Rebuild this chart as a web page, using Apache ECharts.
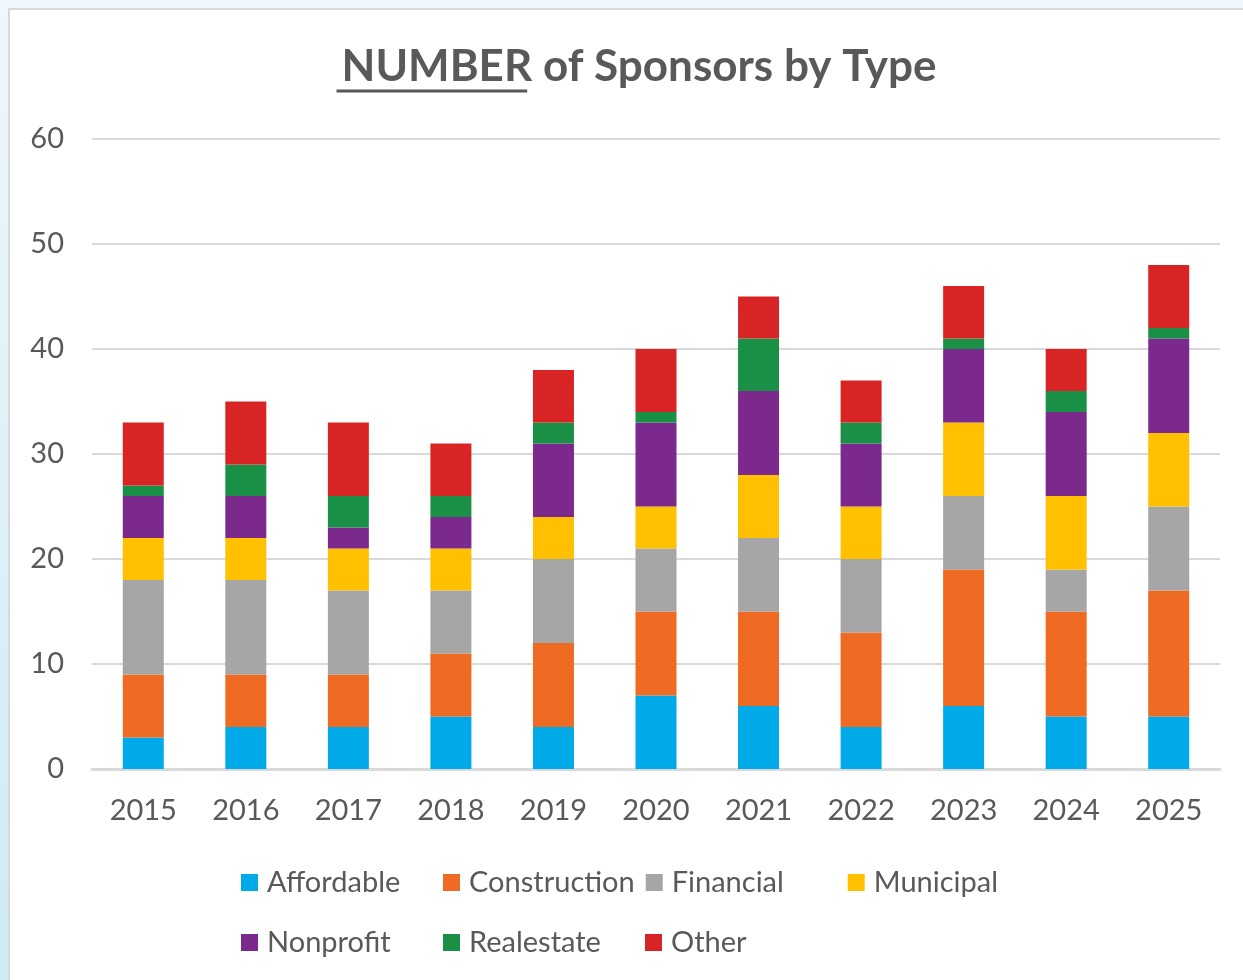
<!DOCTYPE html>
<html>
<head>
<meta charset="utf-8">
<script src="https://cdn.jsdelivr.net/npm/echarts@6/dist/echarts.min.js"></script>
<style>
  html, body { margin:0; padding:0; width:1243px; height:980px; overflow:hidden;
    background: linear-gradient(180deg, #eef7fb 0px, #cdeaf5 100%); }
  #box { position:absolute; left:8px; top:8px; width:1300px; height:1000px; background:#fff;
    border-left:2px solid #d9d9d9; border-top:2px solid #d9d9d9; }
  #chart { position:absolute; left:0; top:0; width:1243px; height:980px; }
</style>
</head>
<body>
<div id="box"></div>
<div id="chart"></div>
<script>
const years = ['2015','2016','2017','2018','2019','2020','2021','2022','2023','2024','2025'];
const affordable   = [3, 4, 4, 5, 4, 7, 6, 4, 6, 5, 5];
const construction = [6, 5, 5, 6, 8, 8, 9, 9, 13, 10, 12];
const financial    = [9, 9, 8, 6, 8, 6, 7, 7, 7, 4, 8];
const municipal    = [4, 4, 4, 4, 4, 4, 6, 5, 7, 7, 7];
const nonprofit    = [4, 4, 2, 3, 7, 8, 8, 6, 7, 8, 9];
const realestate   = [1, 3, 3, 2, 2, 1, 5, 2, 1, 2, 1];
const other        = [6, 6, 7, 5, 5, 6, 4, 4, 5, 4, 6];
const yTicks = { min: 0, max: 60, interval: 10 };

const seriesDefs = [
  ['Affordable', affordable, '#00AAE9'],
  ['Construction', construction, '#EF6A22'],
  ['Financial', financial, '#A6A6A6'],
  ['Municipal', municipal, '#FFC000'],
  ['Nonprofit', nonprofit, '#7B298C'],
  ['Realestate', realestate, '#1A9047'],
  ['Other', other, '#D82424']
];

const font = 'Lato, "Open Sans", sans-serif';
const titleSize = 44;
const titleCenter = 634;
const titleFull = 'NUMBER of Sponsors by Type';
// measure text to place the underline under "NUMBER"
const cv = document.createElement('canvas').getContext('2d');
cv.font = 'bold ' + titleSize + 'px ' + font;
const fullW = cv.measureText(titleFull).width;
const numW = cv.measureText('NUMBER').width;
const ux1 = titleCenter - fullW / 2;

const chart = echarts.init(document.getElementById('chart'), null, { renderer: 'canvas' });
chart.setOption({
  backgroundColor: 'transparent',
  animation: false,
  title: {
    text: titleFull,
    left: titleCenter, top: 40, textAlign: 'center',
    textStyle: { fontFamily: font, fontSize: titleSize, fontWeight: 'bold', color: '#595959' }
  },
  graphic: [{
    type: 'line', shape: { x1: ux1, y1: 91, x2: ux1 + numW, y2: 91 },
    style: { stroke: '#595959', lineWidth: 3 }
  }],
  grid: { left: 92, right: 23, top: 139, bottom: 211, containLabel: false },
  legend: {
    left: 236, top: 853, width: 830,
    itemWidth: 17, itemHeight: 17, itemGap: 11,
    icon: 'rect',
    textStyle: { fontFamily: font, fontSize: 29, color: '#595959', width: 165, lineHeight: 49,
      padding: [0, 0, 0, 4] },
    data: seriesDefs.map(d => d[0])
  },
  xAxis: {
    type: 'category', data: years,
    axisLine: { lineStyle: { color: '#d9d9d9', width: 3 } },
    axisTick: { show: false },
    axisLabel: { fontFamily: font, fontSize: 29, color: '#595959', margin: 27 }
  },
  yAxis: {
    type: 'value', min: yTicks.min, max: yTicks.max, interval: yTicks.interval,
    axisLine: { show: false }, axisTick: { show: false },
    axisLabel: { fontFamily: font, fontSize: 29, color: '#595959', margin: 28 },
    splitLine: { lineStyle: { color: '#d9d9d9', width: 2 } }
  },
  series: seriesDefs.map(d => ({
    name: d[0], type: 'bar', stack: 'total', data: d[1], barWidth: 41,
    itemStyle: { color: d[2] }
  }))
});
</script>
</body>
</html>
